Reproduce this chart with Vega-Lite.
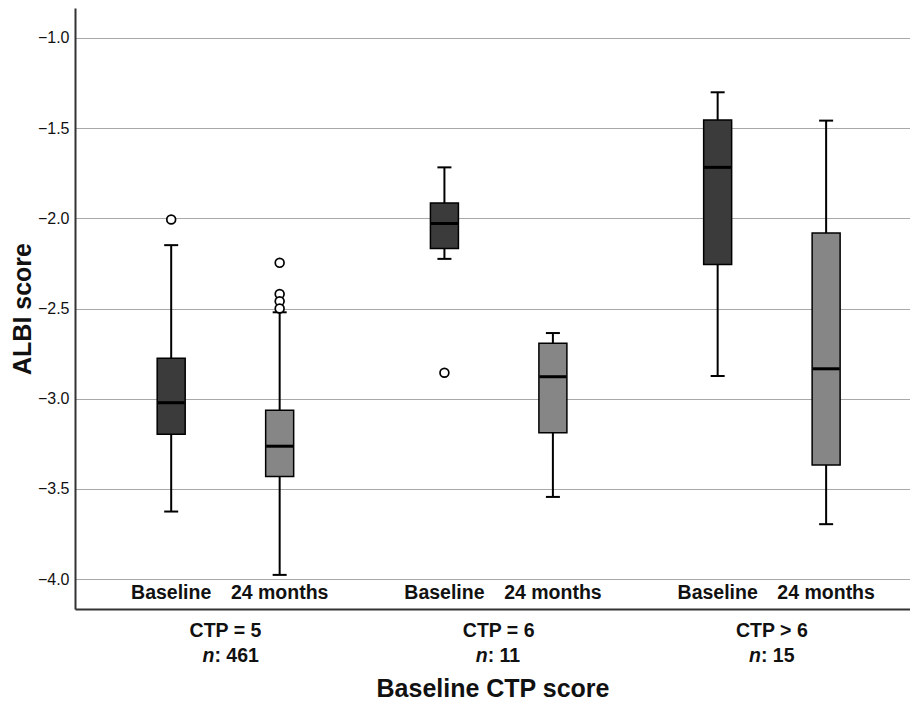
{
  "$schema": "https://vega.github.io/schema/vega-lite/v6.json",
  "width": 835,
  "height": 601,
  "autosize": {"type": "none"},
  "padding": {"left": 75, "top": 8, "right": 0, "bottom": 93},
  "background": "white",
  "config": {
    "view": {"stroke": null},
    "font": "Liberation Sans",
    "axis": {"domainColor": "#333333", "domainWidth": 2, "ticks": false, "tickSize": 0, "labelFont": "Liberation Sans", "titleFont": "Liberation Sans", "labelColor": "#111111", "titleColor": "#111111"}
  },
  "datasets": {
    "boxes": [
      {"group": "CTP = 5", "time": "Baseline", "lo": -3.625, "q1": -3.197, "med": -3.022, "q3": -2.776, "hi": -2.149},
      {"group": "CTP = 5", "time": "24 months", "lo": -3.976, "q1": -3.431, "med": -3.263, "q3": -3.064, "hi": -2.521},
      {"group": "CTP = 6", "time": "Baseline", "lo": -2.225, "q1": -2.168, "med": -2.029, "q3": -1.915, "hi": -1.718},
      {"group": "CTP = 6", "time": "24 months", "lo": -3.544, "q1": -3.188, "med": -2.878, "q3": -2.693, "hi": -2.636},
      {"group": "CTP > 6", "time": "Baseline", "lo": -2.874, "q1": -2.256, "med": -1.718, "q3": -1.455, "hi": -1.302},
      {"group": "CTP > 6", "time": "24 months", "lo": -3.695, "q1": -3.367, "med": -2.834, "q3": -2.081, "hi": -1.459}
    ],
    "outliers": [
      {"group": "CTP = 5", "time": "Baseline", "value": -2.007},
      {"group": "CTP = 5", "time": "24 months", "value": -2.247},
      {"group": "CTP = 5", "time": "24 months", "value": -2.42},
      {"group": "CTP = 5", "time": "24 months", "value": -2.46},
      {"group": "CTP = 5", "time": "24 months", "value": -2.5},
      {"group": "CTP = 6", "time": "Baseline", "value": -2.856}
    ],
    "groups": [
      {"group": "CTP = 5", "nText": ": 461"},
      {"group": "CTP = 6", "nText": ": 11"},
      {"group": "CTP > 6", "nText": ": 15"}
    ]
  },
  "encoding": {
    "x": {
      "field": "group", "type": "nominal",
      "scale": {"domain": ["CTP = 5", "CTP = 6", "CTP > 6"], "paddingInner": 0.206, "paddingOuter": 0.131, "align": 0.586},
      "axis": {"title": "Baseline CTP score", "titleFontSize": 25, "titleFontWeight": "bold", "titlePadding": 36, "labelFontSize": 19.5, "labelFontWeight": "bold", "labelPadding": 12.6, "labelBaseline": "top", "labelAngle": 0, "grid": false}
    }
  },
  "layer": [
    {
      "data": {"name": "boxes"},
      "mark": {"type": "rule", "stroke": "black", "strokeWidth": 2},
      "encoding": {
        "xOffset": {"field": "time", "type": "nominal", "scale": {"domain": ["Baseline", "24 months"], "paddingInner": 0, "paddingOuter": 0}},
        "y": {
          "field": "lo", "type": "quantitative",
          "scale": {"domain": [-4.165, -0.835], "nice": false, "zero": false},
          "axis": {"title": "ALBI score", "titleFontSize": 25, "titleFontWeight": "bold", "titlePadding": 2, "values": [-4, -3.5, -3, -2.5, -2, -1.5, -1], "labelExpr": "replace(format(datum.value, '.1f'), '-', '\u2212')", "labelFontSize": 16, "labelPadding": 6, "grid": true, "gridColor": "#a8a8a8", "gridWidth": 1}
        },
        "y2": {"field": "hi"}
      }
    },
    {
      "data": {"name": "boxes"},
      "mark": {"type": "bar", "width": 28, "stroke": "black", "strokeWidth": 1.5},
      "encoding": {
        "xOffset": {"field": "time", "type": "nominal"},
        "y": {"field": "q1", "type": "quantitative"},
        "y2": {"field": "q3"},
        "color": {"field": "time", "type": "nominal", "scale": {"domain": ["Baseline", "24 months"], "range": ["#3b3b3b", "#868686"]}, "legend": null}
      }
    },
    {
      "data": {"name": "boxes"},
      "mark": {"type": "tick", "size": 27, "thickness": 3, "color": "black", "opacity": 1},
      "encoding": {
        "xOffset": {"field": "time", "type": "nominal"},
        "y": {"field": "med", "type": "quantitative"}
      }
    },
    {
      "data": {"name": "boxes"},
      "mark": {"type": "tick", "size": 14, "thickness": 2, "color": "black", "opacity": 1},
      "encoding": {
        "xOffset": {"field": "time", "type": "nominal"},
        "y": {"field": "lo", "type": "quantitative"}
      }
    },
    {
      "data": {"name": "boxes"},
      "mark": {"type": "tick", "size": 14, "thickness": 2, "color": "black", "opacity": 1},
      "encoding": {
        "xOffset": {"field": "time", "type": "nominal"},
        "y": {"field": "hi", "type": "quantitative"}
      }
    },
    {
      "data": {"name": "outliers"},
      "mark": {"type": "point", "shape": "circle", "filled": true, "fill": "white", "stroke": "black", "strokeWidth": 1.7, "size": 78, "opacity": 1},
      "encoding": {
        "xOffset": {"field": "time", "type": "nominal"},
        "y": {"field": "value", "type": "quantitative"}
      }
    },
    {
      "data": {"name": "boxes"},
      "mark": {"type": "text", "fontSize": 19.5, "fontWeight": "bold", "baseline": "alphabetic", "align": "center", "color": "#111111"},
      "encoding": {
        "xOffset": {"field": "time", "type": "nominal"},
        "y": {"datum": -4.109},
        "text": {"field": "time"}
      }
    },
    {
      "data": {"name": "groups"},
      "mark": {"type": "text", "fontSize": 19.5, "fontWeight": "bold", "fontStyle": "italic", "baseline": "alphabetic", "align": "right", "dx": -11, "color": "#111111"},
      "encoding": {
        "y": {"datum": -4.459},
        "text": {"value": "n"}
      }
    },
    {
      "data": {"name": "groups"},
      "mark": {"type": "text", "fontSize": 19.5, "fontWeight": "bold", "baseline": "alphabetic", "align": "left", "dx": -11, "color": "#111111"},
      "encoding": {
        "y": {"datum": -4.459},
        "text": {"field": "nText"}
      }
    }
  ]
}
